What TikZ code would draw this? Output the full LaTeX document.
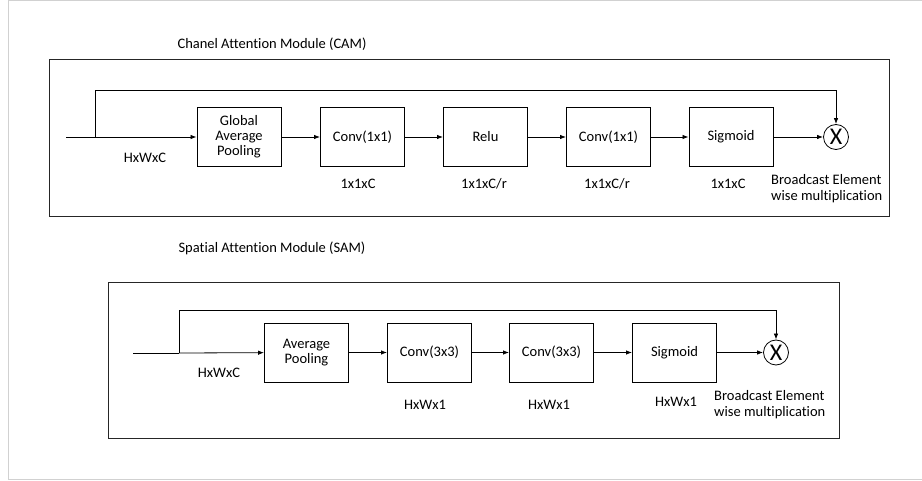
\documentclass[tikz,border=0pt]{standalone}
\usepackage{fontspec}
\setmainfont{Carlito}[Ligatures=NoCommon,RawFeature={-liga;-clig;-dlig}]
\usetikzlibrary{arrows.meta}
\begin{document}
\begin{tikzpicture}[x=1pt,y=-1pt,
  font=\fontsize{14.5}{17}\selectfont,
  blk/.style={draw=black,line width=0.95pt,minimum width=84pt,minimum height=59pt,inner sep=1pt,align=center},
  mul/.style={draw=black,line width=0.8pt,circle,minimum size=25pt,inner sep=0pt,font=\fontsize{24}{26}\selectfont},
  frm/.style={draw=black!85,line width=0.95pt},
  lnk/.style={draw=black,line width=0.8pt},
  arr/.style={lnk,-{Latex[length=6pt,width=4.5pt]}},
  lbl/.style={inner sep=0pt,anchor=center}]
\useasboundingbox (0,0) rectangle (922,481);
\draw[black!18,line width=1pt] (930,1) -- (8,1) -- (8,479) -- (930,479);
% ---------- CAM ----------
\node[lbl] (camt) at (272,44) {Chanel Attention Module (CAM)};
\draw[frm] (49,59) rectangle (889,216);
\coordinate (cin) at (66,137);
\coordinate (cbr) at (95,137);
\node[blk] (gap) at (239,137) {Global\\[-2pt]Average\\[-2pt]Pooling};
\node[blk] (cv1) at (362.5,137) {Conv(1x1)};
\node[blk] (rel) at (485.5,137) {Relu};
\node[blk] (cv2) at (608.5,137) {Conv(1x1)};
\node[blk] (sg1) at (731,137) {Sigmoid};
\node[mul] (m1) at (836,137) {X};
\coordinate (ctl) at (95,90);
\coordinate (ctr) at (836,90);
\draw[lnk] (cin) -- (cbr);
\draw[arr] (cbr) -- (gap);
\draw[arr] (gap) -- (cv1);
\draw[arr] (cv1) -- (rel);
\draw[arr] (rel) -- (cv2);
\draw[arr] (cv2) -- (sg1);
\draw[arr] (sg1) -- (m1);
\draw[arr] (cbr) -- (ctl) -- (ctr) -- (m1);
\node[lbl] (l1) at (145,158) {HxWxC};
\node[lbl] (l2) at (358,184) {1x1xC};
\node[lbl] (l3) at (484,184) {1x1xC/r};
\node[lbl] (l4) at (607,184) {1x1xC/r};
\node[lbl] (l5) at (728,184) {1x1xC};
\node[lbl,anchor=west,align=left] (b1) at (771,188.5) {Broadcast Element\\[-1pt]wise multiplication};
% ---------- SAM ----------
\node[lbl] (samt) at (272,248) {Spatial Attention Module (SAM)};
\draw[frm] (108,282) rectangle (839,438);
\coordinate (sin) at (133,353);
\coordinate (sbr) at (179,353);
\node[blk] (ap) at (306.5,352.5) {Average\\[-2pt]Pooling};
\node[blk] (c31) at (429.5,352.5) {Conv(3x3)};
\node[blk] (c32) at (551.5,352.5) {Conv(3x3)};
\node[blk] (sg2) at (674.5,352.5) {Sigmoid};
\node[mul] (m2) at (776,352.5) {X};
\coordinate (stl) at (179,310);
\coordinate (str) at (776,310);
\draw[lnk] (sin) -- (sbr);
\draw[arr] (sbr) -- (ap);
\draw[arr] (ap) -- (c31);
\draw[arr] (c31) -- (c32);
\draw[arr] (c32) -- (sg2);
\draw[arr] (sg2) -- (m2);
\draw[arr] (sbr) -- (stl) -- (str) -- (m2);
\node[lbl] (s1) at (219,373) {HxWxC};
\node[lbl] (s2) at (425,405) {HxWx1};
\node[lbl] (s3) at (549,405) {HxWx1};
\node[lbl] (s4) at (676,402) {HxWx1};
\node[lbl,anchor=west,align=left] (b2) at (714,405) {Broadcast Element\\[-1pt]wise multiplication};
\end{tikzpicture}
\end{document}
